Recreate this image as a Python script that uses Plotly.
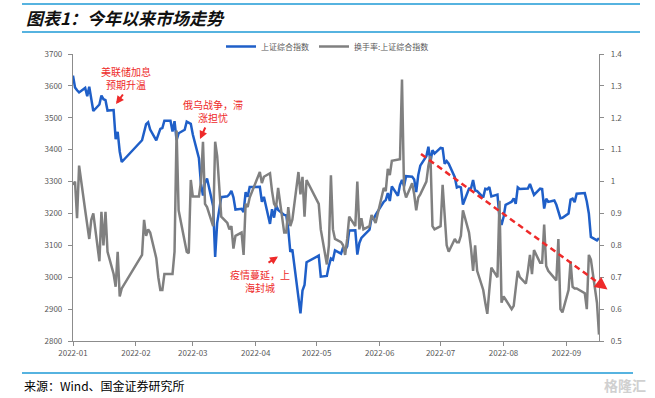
import pandas as pd
import plotly.graph_objects as go

# ---------------- data ----------------
holidays = ["2022-01-31", "2022-02-01", "2022-02-02", "2022-02-03", "2022-02-04",
            "2022-04-04", "2022-04-05", "2022-05-02", "2022-05-03", "2022-05-04",
            "2022-06-03", "2022-09-12"]

sse_index = [
    # Jan
    3632.3, 3595.2, 3586.1, 3579.5, 3593.5, 3567.4, 3597.4, 3555.1, 3521.3, 3541.7,
    3569.9, 3558.2, 3555.1, 3522.6, 3524.1, 3433.1, 3455.7, 3394.3, 3361.4,
    # Feb
    3429.6, 3452.6, 3479.9, 3485.9, 3462.9, 3428.9, 3446.6, 3465.3, 3468.0, 3491.0,
    3490.6, 3457.2, 3489.2, 3429.9, 3451.4, 3462.3,
    # Mar
    3488.1, 3484.2, 3481.1, 3447.7, 3372.9, 3293.5, 3256.4, 3296.1, 3309.8, 3223.5,
    3063.9, 3170.7, 3215.0, 3251.1, 3253.7, 3259.9, 3271.0, 3250.3, 3212.2, 3214.5,
    3203.9, 3266.6, 3252.2,
    # Apr
    3282.7, 3283.4, 3236.7, 3251.9, 3167.1, 3213.3, 3186.8, 3225.6, 3211.2, 3195.5,
    3194.0, 3151.1, 3079.8, 3086.9, 2928.5, 2886.4, 2958.3, 2975.5, 3047.1,
    # May
    3067.8, 3001.6, 3004.1, 3035.8, 3058.7, 3054.9, 3084.3, 3073.8, 3093.7, 3085.9,
    3096.9, 3146.6, 3146.9, 3070.9, 3107.5, 3123.1, 3130.2, 3149.1, 3186.4,
    # Jun
    3182.2, 3195.5, 3236.4, 3241.8, 3263.8, 3238.9, 3284.8, 3255.6, 3288.9, 3305.4,
    3285.4, 3316.8, 3315.4, 3306.7, 3267.2, 3320.2, 3349.8, 3379.2, 3409.2, 3361.5,
    3398.6,
    # Jul
    3387.6, 3405.4, 3404.0, 3355.4, 3364.4, 3356.1, 3313.6, 3281.5, 3284.3, 3281.7,
    3228.1, 3278.1, 3279.4, 3304.7, 3272.0, 3269.9, 3250.4, 3277.4, 3275.8, 3282.6,
    3253.2,
    # Aug
    3259.0, 3186.3, 3163.7, 3189.0, 3227.0, 3236.9, 3247.4, 3230.0, 3281.7, 3276.9,
    3276.1, 3277.9, 3292.5, 3278.0, 3258.1, 3277.5, 3276.2, 3215.2, 3246.3, 3236.2,
    3240.7, 3227.2, 3202.1,
    # Sep
    3185.0, 3186.5, 3199.9, 3243.5, 3246.3, 3235.6, 3262.1, 3263.8, 3237.5, 3199.9,
    3126.4, 3115.6, 3122.4,
]

turnover = [
    # Jan
    0.99, 1.00, 0.885, 1.05, 0.91, 0.855, 0.82, 0.88, 0.90, 0.75,
    0.905, 0.80, 0.905, 0.78, 0.71, 0.67, 0.78, 0.64, 0.665,
    # Feb
    0.77, 0.88, 0.83, 0.85, 0.84, 0.76, 0.70, 0.66, 0.66, 0.71,
    0.71, 0.71, 0.78, 1.16, 0.91, 0.82,
    # Mar
    0.78, 0.775, 1.005, 0.953, 0.953, 1.0, 1.125, 0.93, 0.92, 0.86,
    1.125, 1.08, 0.99, 0.89, 0.87, 0.85, 0.86, 0.79, 0.83, 0.84,
    0.77, 0.93, 0.92,
    # Apr
    0.95, 1.03, 0.995, 1.015, 1.026, 0.97, 0.93, 0.92, 0.98, 0.84,
    0.84, 0.92, 0.86, 0.88, 1.03, 0.96, 1.015, 0.89, 1.005,
    # May
    0.93, 0.85, 0.74, 0.80, 1.02, 0.85, 0.82, 0.81, 0.80, 0.77,
    0.82, 0.89, 0.86, 1.0, 0.85, 0.885, 0.85, 0.86, 0.895,
    # Jun
    0.88, 0.87, 0.98, 0.97, 1.04, 1.02, 1.065, 1.067, 1.07, 1.32,
    0.975, 0.95, 0.995, 0.96, 0.91, 0.95, 0.96, 1.0, 1.05, 1.08,
    0.86,
    # Jul
    0.85, 0.86, 0.99, 0.89, 0.80, 0.78, 0.82, 0.81, 0.81, 0.83,
    0.91, 0.84, 0.79, 0.72, 0.80, 0.72, 0.66, 0.62, 0.585, 0.66,
    0.73,
    # Aug
    0.70, 0.94, 0.62, 0.64, 0.63, 0.60, 0.61, 0.66, 0.72, 0.70,
    0.68, 0.72, 0.77, 0.71, 0.785, 0.745, 0.745, 0.865, 0.735, 0.72,
    0.70, 0.69, 0.82,
    # Sep
    0.60, 0.59, 0.66, 0.75, 0.67, 0.665, 0.665, 0.65, 0.60, 0.77,
    0.755, 0.62, 0.52,
]

tick_vals = ["2022-01-04", "2022-02-04", "2022-03-04", "2022-04-04", "2022-05-04",
             "2022-06-04", "2022-07-04", "2022-08-04", "2022-09-04"]
tick_text = ["2022-01", "2022-02", "2022-03", "2022-04", "2022-05",
             "2022-06", "2022-07", "2022-08", "2022-09"]

series_names = ["上证综合指数", "换手率:上证综合指数"]

days = pd.bdate_range("2022-01-04", "2022-09-20")
days = days[~days.isin(pd.to_datetime(holidays))]
n = min(len(days), len(sse_index), len(turnover))
dates = days[:n]

# ---------------- figure ----------------
BLUE = "#1F5FC8"
GRAY = "#808080"
RED = "#EE2A2A"
RULE = "#1E9AD6"
TXT = "#595959"
FONT = "Noto Sans CJK SC, Noto Sans, sans-serif"

fig = go.Figure()
fig.add_trace(go.Scatter(x=dates, y=sse_index[:n], name=series_names[0], mode="lines",
                         line=dict(color=BLUE, width=2.5), yaxis="y"))
fig.add_trace(go.Scatter(x=dates, y=turnover[:n], name=series_names[1], mode="lines",
                         line=dict(color=GRAY, width=2.5), yaxis="y2"))

L, R, T, B = 73, 56, 54, 57
W, H = 655, 398
pw, ph = W - L - R, H - T - B


def px(x):
    return (x - L) / pw


def py(y):
    return (H - B - y) / ph


fig.update_layout(
    width=W, height=H,
    margin=dict(l=L, r=R, t=T, b=B, autoexpand=False),
    paper_bgcolor="white", plot_bgcolor="white",
    font=dict(family=FONT, size=8, color=TXT),
    showlegend=True,
    legend=dict(orientation="h", x=0.5, xanchor="center", xref="container",
                y=1 - 46.5 / H, yanchor="middle", yref="container",
                font=dict(size=8, color=TXT), itemwidth=30, bgcolor="rgba(0,0,0,0)"),
    xaxis=dict(type="date", range=["2022-01-04", "2022-09-20"],
               tickmode="array", tickvals=tick_vals, ticktext=tick_text,
               showgrid=False, zeroline=False, showline=True, linecolor="#8C8C8C",
               linewidth=1.2, ticks="outside", ticklen=4, tickcolor="#8C8C8C",
               tickfont=dict(size=8, color=TXT)),
    yaxis=dict(range=[2800, 3700], dtick=100, showgrid=False, zeroline=False,
               showline=True, linecolor="#8C8C8C", linewidth=1.2, ticks="outside",
               ticklen=4, tickcolor="#8C8C8C", tickfont=dict(size=8, color=TXT),
               ticklabelstandoff=4),
    yaxis2=dict(range=[0.5, 1.4], dtick=0.1, overlaying="y", side="right",
                showgrid=False, zeroline=False, showline=True, linecolor="#8C8C8C",
                linewidth=1.2, ticks="outside", ticklen=4, tickcolor="#8C8C8C",
                tickfont=dict(size=8, color=TXT), ticklabelstandoff=5),
)

shapes = [
    dict(type="line", xref="paper", yref="paper", x0=px(22), x1=px(640), y0=py(4), y1=py(4),
         line=dict(color=RULE, width=1.5)),
    dict(type="line", xref="paper", yref="paper", x0=px(22), x1=px(640), y0=py(32), y1=py(32),
         line=dict(color=RULE, width=1.5)),
    dict(type="line", xref="paper", yref="paper", x0=px(22), x1=px(633), y0=py(373), y1=py(373),
         line=dict(color=RULE, width=1.5)),
    # red dashed trend arrow
    dict(type="line", xref="paper", yref="paper", x0=px(421), y0=py(154), x1=px(602), y1=py(285.5),
         line=dict(color=RED, width=2.5, dash="6px,4px")),
]
fig.update_layout(shapes=shapes)

annos = [
    dict(text="<b><i>图表1：今年以来市场走势</i></b>", xref="paper", yref="paper",
         x=px(24), y=py(18), xanchor="left", yanchor="middle", showarrow=False,
         font=dict(size=17, color="#111111", family=FONT)),
    dict(text="来源：Wind、国金证券研究所", xref="paper", yref="paper",
         x=px(22), y=py(385), xanchor="left", yanchor="middle", showarrow=False,
         font=dict(size=12, color="#000000", family=FONT)),
    dict(text="<b>格隆汇</b>", xref="paper", yref="paper",
         x=px(648), y=py(385), xanchor="right", yanchor="middle", showarrow=False,
         font=dict(size=14, color="#D0D0D0", family=FONT)),
    # red notes
    dict(text="美联储加息<br>预期升温", xref="paper", yref="paper", x=px(126), y=py(77.5),
         xanchor="center", yanchor="middle", showarrow=False, align="center",
         font=dict(size=10, color=RED)),
    dict(text="俄乌战争，滞<br>涨担忧", xref="paper", yref="paper", x=px(213), y=py(111),
         xanchor="center", yanchor="middle", showarrow=False, align="center",
         font=dict(size=10, color=RED)),
    dict(text="疫情蔓延，上<br>海封城", xref="paper", yref="paper", x=px(260), y=py(281),
         xanchor="center", yanchor="middle", showarrow=False, align="center",
         font=dict(size=10, color=RED)),
    # small arrows
    dict(text="", xref="paper", yref="paper", x=px(116), y=py(104), ax=8, ay=-11,
         showarrow=True, arrowhead=2, arrowsize=0.8, arrowwidth=2, arrowcolor=RED),
    dict(text="", xref="paper", yref="paper", x=px(200), y=py(139), ax=6, ay=-13,
         showarrow=True, arrowhead=2, arrowsize=0.8, arrowwidth=2, arrowcolor=RED),
    dict(text="", xref="paper", yref="paper", x=px(278), y=py(256.5), ax=-11, ay=7,
         showarrow=True, arrowhead=2, arrowsize=0.8, arrowwidth=2, arrowcolor=RED),
    # head of dashed trend arrow
    dict(text="", xref="paper", yref="paper", x=px(607.5), y=py(289.5), ax=-8, ay=-6,
         showarrow=True, arrowhead=2, arrowsize=1, arrowwidth=2.5, arrowcolor=RED),
]
fig.update_layout(annotations=annos)

fig.write_html("out.html", config={"displayModeBar": False},
               post_script="document.body.style.margin='0';document.body.style.padding='0';")
